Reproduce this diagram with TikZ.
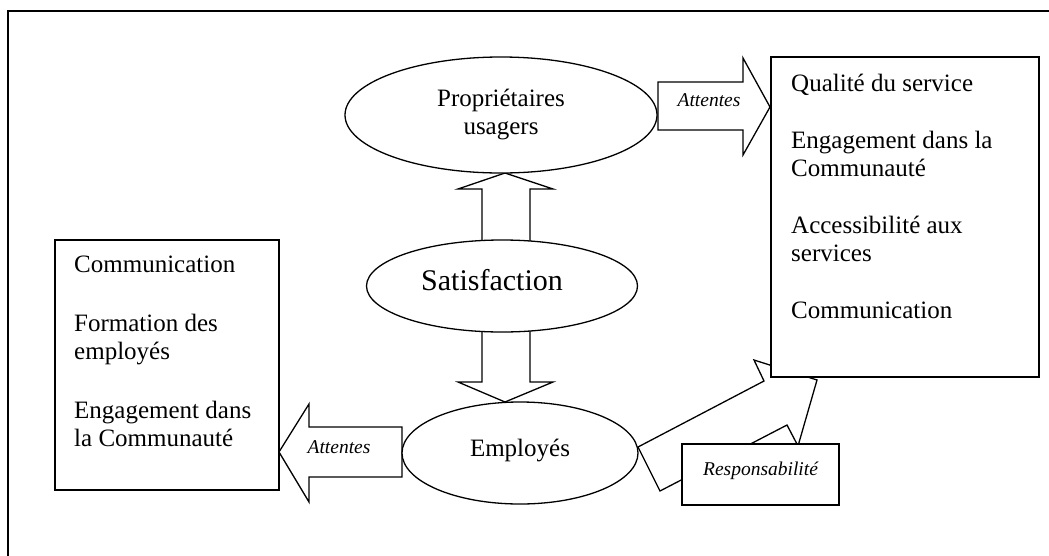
\documentclass[tikz,border=0pt]{standalone}
\usepackage{fontspec}
\setmainfont{Liberation Serif}
\usetikzlibrary{shapes.geometric}
\begin{document}
\begin{tikzpicture}[x=1pt,y=-1pt,
  shapeline/.style={draw=black, line width=1.3pt},
  blockarrow/.style={shapeline, fill=white, line join=miter},
  oval/.style={ellipse, shapeline, fill=white, inner sep=0pt},
  boxnode/.style={rectangle, shapeline, fill=white, inner sep=0pt},
  bodytext/.style={font=\fontsize{25pt}{28pt}\selectfont, align=left, inner sep=0pt, anchor=north west},
  tagtext/.style={font=\fontsize{19.5pt}{22pt}\selectfont\itshape, inner sep=0pt},
]
\useasboundingbox (0,0) rectangle (1049,555);
\fill[white] (0,0) rectangle (1049,555);
% outer frame (only top and left edges are visible)
\draw[line width=1.5pt] (8,560) -- (8,11) -- (1060,11);

% block arrows
\draw[blockarrow] (658,82) -- (743,82) -- (743,58) -- (770,107) -- (743,155) -- (743,130) -- (658,130) -- cycle;
\draw[blockarrow] (482,242) -- (482,189) -- (458,189) -- (505,173) -- (553,189) -- (530,189) -- (530,242) -- cycle;
\draw[blockarrow] (482,330) -- (482,382) -- (458,382) -- (505,402) -- (553,382) -- (530,382) -- (530,330) -- cycle;
\draw[blockarrow] (402,427) -- (309,427) -- (309,404) -- (279,452) -- (309,502) -- (309,477) -- (402,477) -- cycle;
\draw[blockarrow] (638,447) -- (764,381) -- (754,360) -- (817,380) -- (798,446) -- (787,425) -- (660,491) -- cycle;

% ellipses
\node[oval, minimum width=312pt, minimum height=116pt, align=center,
      font=\fontsize{25pt}{28pt}\selectfont] (prop) at (501,115) {Propriétaires\\usagers};
\node[oval, minimum width=271pt, minimum height=92pt,
      font=\fontsize{30pt}{34pt}\selectfont, text height=20pt, text depth=12pt] (sat) at (502,286) {Satisfaction\hspace*{20pt}};
\node[oval, minimum width=236pt, minimum height=102pt,
      font=\fontsize{25pt}{28pt}\selectfont, text height=17pt, text depth=11pt] (emp) at (520,453) {Employés};

% boxes
\node[boxnode, minimum width=224pt, minimum height=250pt] (lbox) at (167,365) {};
\node[boxnode, minimum width=268pt, minimum height=320pt] (rbox) at (905,217) {};
\node[boxnode, tagtext, minimum width=157pt, minimum height=61pt, text height=13pt, text depth=12pt] (resp) at (760.5,474.5) {Responsabilité};

% labels on arrows
\node[tagtext, anchor=base] (att1) at (709,106) {Attentes};
\node[tagtext, anchor=base] (att2) at (339,453) {Attentes};

% box texts
\node[bodytext] (rtext) at (791,74) {Qualité du service\\[29pt]Engagement dans la\\Communauté\\[29pt]Accessibilité aux\\services\\[29pt]Communication};
\node[bodytext] (ltext) at (74,256) {Communication\\[31pt]Formation des\\employés\\[31pt]Engagement dans\\la Communauté};
\end{tikzpicture}
\end{document}
